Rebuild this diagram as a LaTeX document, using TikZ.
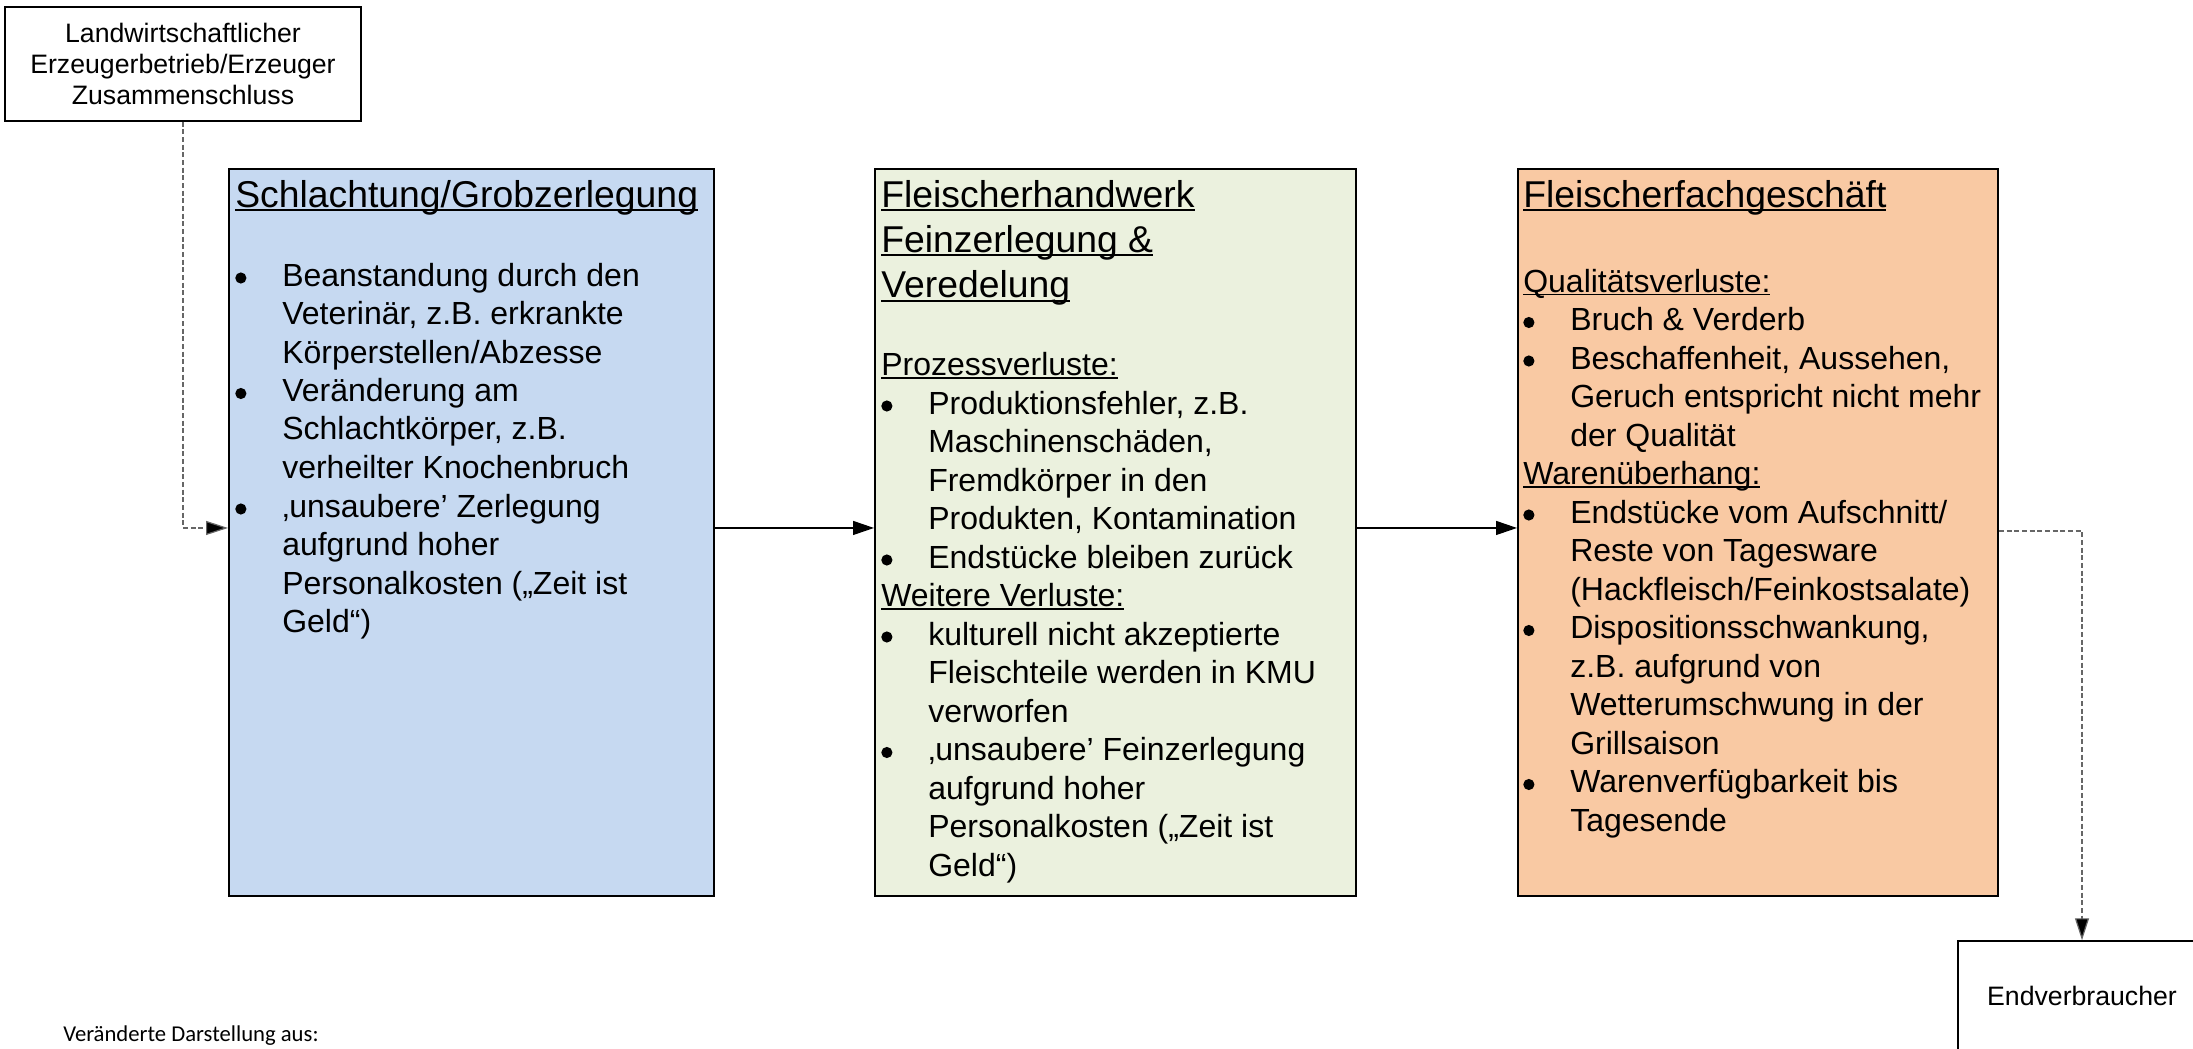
\documentclass[tikz,border=0pt]{standalone}
\usepackage{fontspec}
\setmainfont{Liberation Sans}
\newfontfamily\calibrifont{Carlito}
\usetikzlibrary{arrows.meta}
\definecolor{boxblue}{HTML}{C6D9F1}
\definecolor{boxgreen}{HTML}{EBF1DE}
\definecolor{boxorange}{HTML}{F9C9A3}
\definecolor{dashgray}{HTML}{666666}
\newlength\bulletindent
\setlength\bulletindent{35.25pt}
\newcommand\ulx[1]{\setbox0=\hbox{#1}\rlap{\rule[-2.6pt]{\wd0}{1.3pt}}\box0}
\newcommand\ultitle[1]{\setbox0=\hbox{#1}\rlap{\rule[-3pt]{\wd0}{1.5pt}}\box0}
\newcommand\mydot{\tikz[baseline=-6pt]\fill[black] (4.2pt,0pt) circle[radius=4.2pt];}
\newcommand\bitem[1]{\hbox{\makebox[\bulletindent][l]{\mydot}#1}}
\newcommand\citem[1]{\hbox{\hspace*{\bulletindent}#1}}
\newcommand\hitem[1]{\hbox{\ulx{#1}}}
\newcommand\titem[1]{\hbox{\ultitle{#1}}}
\tikzset{
  stage/.style={draw=black, line width=1.5pt, inner sep=0pt, anchor=north west},
  plainbox/.style={draw=black, line width=1.1pt, inner sep=0pt, align=center},
  bodytext/.style={inner sep=0pt, anchor=base west, font=\fontsize{24}{28.875}\selectfont},
  titletext/.style={inner sep=0pt, anchor=base west, font=\fontsize{28}{34}\selectfont},
  flow/.style={line width=1pt, -{Triangle[length=15.75pt,width=10.5pt]}},
  dashflow/.style={draw=dashgray, line width=0.9pt, dash pattern=on 3.75pt off 2pt, -{Triangle[length=16.5pt,width=10.5pt,fill=black]}}
}
\begin{document}
\begin{tikzpicture}[x=0.75pt,y=-0.75pt]
\useasboundingbox (0,0) rectangle (2193,1049);
\clip (0,0) rectangle (2193,1049);

% boxes
\node[stage, fill=boxblue, minimum width=363.75pt, minimum height=545.25pt] (blue) at (228,168) {};
\node[stage, fill=boxgreen, minimum width=360.75pt, minimum height=545.25pt] (green) at (874,168) {};
\node[stage, fill=boxorange, minimum width=360pt, minimum height=545.25pt] (orange) at (1517,168) {};

\node[plainbox, minimum width=267pt, minimum height=85.5pt,
      font=\fontsize{20}{23.25}\selectfont] (farm) at (183,64)
  {Landwirtschaftlicher\\Erzeugerbetrieb/Erzeuger\\Zusammenschluss};

\node[plainbox, minimum width=186pt, minimum height=82.5pt,
      font=\fontsize{20}{24}\selectfont] (consumer) at (2082,996) {Endverbraucher};

% blue content
\node[titletext] (bluetitle) at (235,207) {\vtop{\titem{Schlachtung/Grobzerlegung}}};
\node[bodytext] (bluetext) at (235,286) {\vtop{\baselineskip=28.875pt
  \bitem{Beanstandung durch den}
  \citem{Veterinär, z.B. erkrankte}
  \citem{Körperstellen/Abzesse}
  \bitem{Veränderung am}
  \citem{Schlachtkörper, z.B.}
  \citem{verheilter Knochenbruch}
  \bitem{‚unsaubere’ Zerlegung}
  \citem{aufgrund hoher}
  \citem{Personalkosten („Zeit ist}
  \citem{Geld“)}}};

% green content
\node[titletext] (greentitle) at (881,207) {\vtop{\baselineskip=34pt
  \titem{Fleischerhandwerk}
  \titem{Feinzerlegung \&}
  \titem{Veredelung}}};
\node[bodytext] (greentext) at (881,375.5) {\vtop{\baselineskip=28.875pt
  \hitem{Prozessverluste:}
  \bitem{Produktionsfehler, z.B.}
  \citem{Maschinenschäden,}
  \citem{Fremdkörper in den}
  \citem{Produkten, Kontamination}
  \bitem{Endstücke bleiben zurück}
  \hitem{Weitere Verluste:}
  \bitem{kulturell nicht akzeptierte}
  \citem{Fleischteile werden in KMU}
  \citem{verworfen}
  \bitem{‚unsaubere’ Feinzerlegung}
  \citem{aufgrund hoher}
  \citem{Personalkosten („Zeit ist}
  \citem{Geld“)}}};

% orange content
\node[titletext] (orangetitle) at (1523,207) {\vtop{\titem{Fleischerfachgeschäft}}};
\node[bodytext] (orangetext) at (1523,292) {\vtop{\baselineskip=28.875pt
  \hitem{Qualitätsverluste:}
  \bitem{Bruch \& Verderb}
  \bitem{Beschaffenheit, Aussehen,}
  \citem{Geruch entspricht nicht mehr}
  \citem{der Qualität}
  \hitem{Warenüberhang:}
  \bitem{Endstücke vom Aufschnitt/}
  \citem{Reste von Tagesware}
  \citem{(Hackfleisch/Feinkostsalate)}
  \bitem{Dispositionsschwankung,}
  \citem{z.B. aufgrund von}
  \citem{Wetterumschwung in der}
  \citem{Grillsaison}
  \bitem{Warenverfügbarkeit bis}
  \citem{Tagesende}}};

% caption
\node[inner sep=0pt, anchor=base west, font=\calibrifont\fontsize{17}{20}\selectfont] (caption) at (63,1041) {Veränderte Darstellung aus:};

% connectors
\draw[dashflow] (farm.south) |- ([yshift=3.4pt]blue.west);
\draw[flow] ([yshift=3.4pt]blue.east) -- ([yshift=3.4pt]green.west);
\draw[flow] ([yshift=3.4pt]green.east) -- ([yshift=3.4pt]orange.west);
\draw[dashflow] ([yshift=1.1pt]orange.east) -| (consumer.north);
\end{tikzpicture}
\end{document}
